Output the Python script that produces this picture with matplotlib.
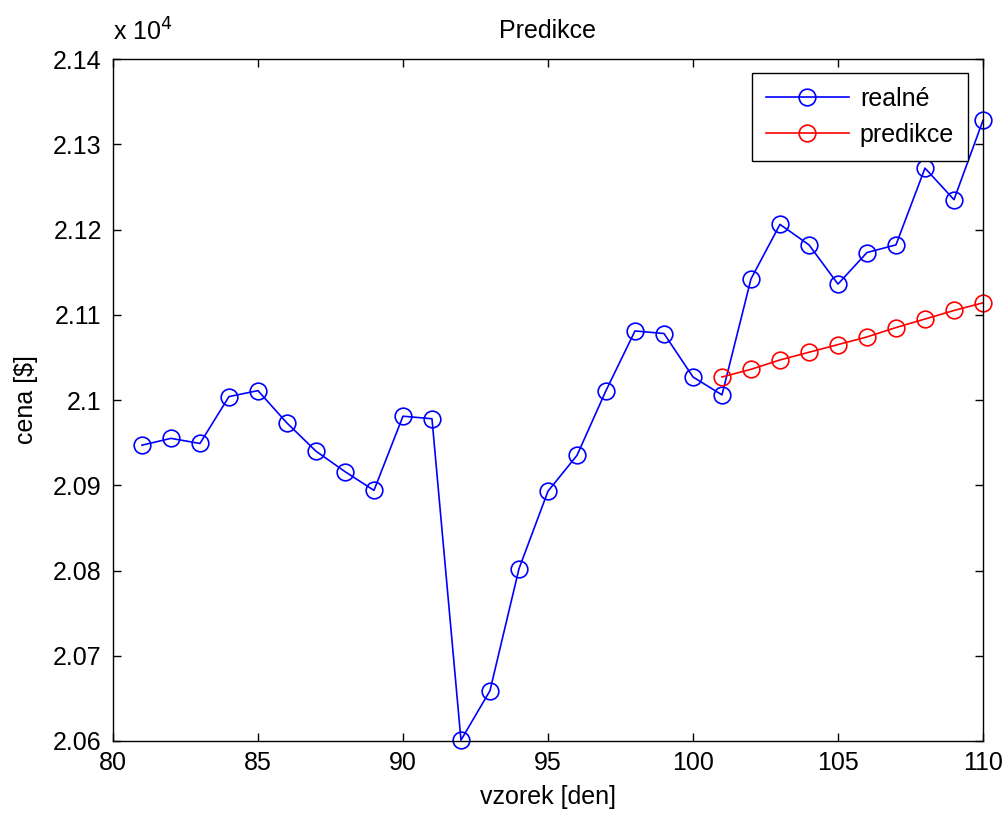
import numpy as np
import matplotlib.pyplot as plt
from matplotlib.ticker import FuncFormatter

# data (cena v USD)
days_real = list(range(81, 111))
price_real = [20947, 20955, 20949, 21004, 21011, 20973, 20940, 20916, 20894, 20981,
              20978, 20601, 20659, 20802, 20893, 20935, 21011, 21081, 21078, 21027,
              21006, 21142, 21206, 21182, 21136, 21173, 21182, 21272, 21235, 21328]
days_pred = list(range(101, 111))
price_pred = [21027, 21036, 21047, 21056, 21065, 21074, 21085, 21095, 21105, 21114]

scale = 1e4
fs = 18

plt.rcParams['font.family'] = ['Liberation Sans', 'DejaVu Sans']

fig = plt.figure(figsize=(10.05, 8.15), dpi=100)
ax = fig.add_axes([0.1124, 0.0908, 0.8657, 0.8368])

ax.plot(days_real, np.array(price_real) / scale, color='blue', marker='o', markersize=12,
        markerfacecolor='none', markeredgewidth=1.2, linewidth=1.2, label='realné', clip_on=False)
ax.plot(days_pred, np.array(price_pred) / scale, color='red', marker='o', markersize=12,
        markerfacecolor='none', markeredgewidth=1.2, linewidth=1.2, label='predikce', clip_on=False)

ax.set_xlim(80, 110)
ax.set_ylim(2.06, 2.14)
ax.set_xticks(range(80, 111, 5))
ax.set_yticks(np.arange(2.06, 2.1401, 0.01))
ax.yaxis.set_major_formatter(FuncFormatter(lambda v, p: f'{v:g}'))
ax.tick_params(direction='in', length=6, width=1, top=True, right=True, labelsize=fs)
ax.tick_params(axis='x', pad=7)
ax.tick_params(axis='y', pad=8)
for s in ax.spines.values():
    s.set_linewidth(1)

ax.set_title('Predikce', fontsize=fs, pad=15)
ax.set_xlabel('vzorek [den]', fontsize=fs, va='center')
ax.set_ylabel('cena [\\$]', fontsize=fs, va='center')
ax.xaxis.set_label_coords(0.5, -0.082)
ax.yaxis.set_label_coords(-0.100, 0.5)
ax.text(0.0, 1.02, 'x 10$^4$', transform=ax.transAxes, fontsize=fs, ha='left', va='bottom')

leg = ax.legend(loc='upper right', fontsize=fs, handlelength=3.3, handletextpad=0.45,
                labelspacing=0.5, borderpad=0.55, borderaxespad=0, fancybox=False,
                framealpha=1, edgecolor='black', bbox_to_anchor=(0.9827, 0.9795))
leg.get_frame().set_linewidth(1)

fig.savefig('out.png', dpi=100)
